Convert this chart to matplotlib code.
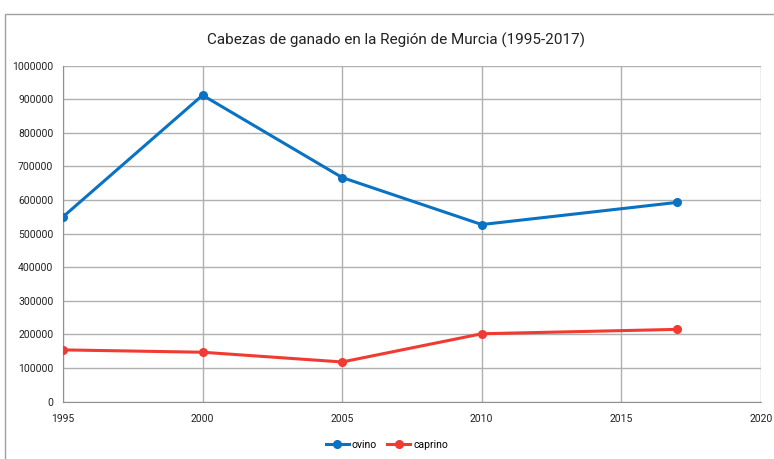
import matplotlib
matplotlib.use("Agg")
import matplotlib.pyplot as plt
from matplotlib.patches import Rectangle

years = [1995, 2000, 2005, 2010, 2017]
ovino = [550000, 912000, 667000, 527000, 593000]
caprino = [154000, 147000, 118000, 202000, 215000]
title = "Cabezas de ganado en la Región de Murcia (1995-2017)"
xticks = [1995, 2000, 2005, 2010, 2015, 2020]
yticks = list(range(0, 1000001, 100000))

plt.rcParams['font.family'] = ["Roboto", "DejaVu Sans"]

fig = plt.figure(figsize=(7.74, 4.59), dpi=100)
ax = fig.add_axes([0.0814, 0.125, 0.9016, 0.732])

fig.patches.append(Rectangle((5/774, -0.1), 1.0, 1 - 14/459 + 0.1, transform=fig.transFigure,
                             fill=False, edgecolor="#a0a0a0", lw=1.0))

ax.plot(years, ovino, color="#0a72c2", lw=2.2, marker="o", ms=5.5, label="ovino", zorder=3)
ax.plot(years, caprino, color="#f03a32", lw=2.2, marker="o", ms=5.5, label="caprino", zorder=3)

ax.set_xlim(1995, 2020)
ax.set_ylim(0, 1000000)
ax.set_xticks(xticks)
ax.set_yticks(yticks)
ax.set_xticklabels([str(v) for v in xticks], fontsize=7.5)
ax.set_yticklabels([str(v) for v in yticks], fontsize=7.5)
ax.tick_params(axis="x", length=0, pad=9, colors="#222222")
ax.tick_params(axis="y", length=0, pad=7, colors="#222222")
ax.grid(True, color="#b0b0b0", lw=1.0)
ax.set_axisbelow(True)
for s in ["top", "right"]:
    ax.spines[s].set_visible(False)
for s in ["left", "bottom"]:
    ax.spines[s].set_color("#909090")

fig.text(396/774, 0.913, title, ha="center", va="center", fontsize=11, color="#222222")
fig.legend(loc="center", bbox_to_anchor=(0.5, 1 - 445/459), ncol=2, frameon=False,
           fontsize=7.5, handlelength=2.2, columnspacing=1.0, handletextpad=0.3)

fig.savefig("out.png", dpi=100)
